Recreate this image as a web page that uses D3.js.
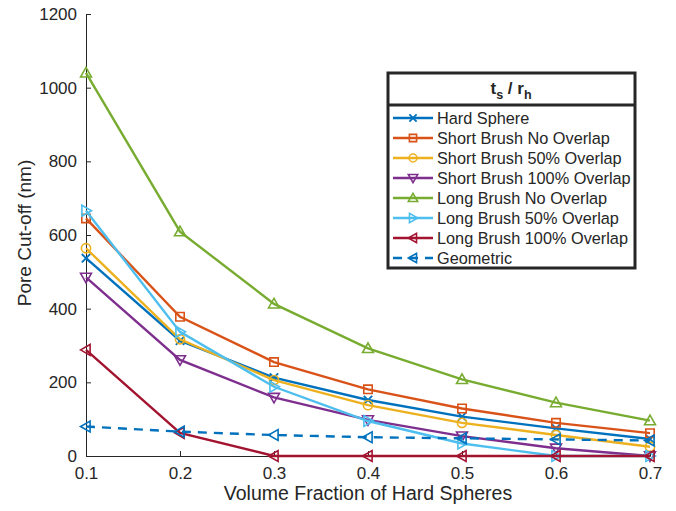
<!DOCTYPE html>
<html>
<head>
<meta charset="utf-8">
<script src="https://cdn.jsdelivr.net/npm/d3@7"></script>
<style>
  body { margin: 0; background: #fff; }
  svg text { font-family: "Liberation Sans", Arial, sans-serif; fill: #262626; }
</style>
</head>
<body>
<div id="chart"></div>
<script>

// === Data === //

var fractions = [0.1, 0.2, 0.3, 0.4, 0.5, 0.6, 0.7];

var hardSphere   = [537, 313, 213, 152, 107, 75, 46];
var shortNo      = [645, 378, 255, 181, 129, 90, 62];
var short50      = [564, 317, 206, 138, 90, 57, 25];
var short100     = [485, 261, 159, 98, 54, 21, 0];
var longNo       = [1040, 609, 413, 292, 208, 145, 96];
var long50       = [666, 337, 188, 95, 34, 0, 0];
var long100      = [288, 63, 0, 0, 0, 0, 0];
var geometric    = [80, 66, 57, 51, 48, 45, 42];

var seriesNames  = ['Hard Sphere', 'Short Brush No Overlap', 'Short Brush 50% Overlap',
  'Short Brush 100% Overlap', 'Long Brush No Overlap', 'Long Brush 50% Overlap',
  'Long Brush 100% Overlap', 'Geometric'];

var yTicks = [0, 200, 400, 600, 800, 1000, 1200];

// === Setup === //

var width = 676, height = 511;
var margin = {left: 86, right: 26, top: 14, bottom: 55};

var series = [
  {name: seriesNames[0], values: hardSphere, colour: '#0072BD', marker: 'x'},
  {name: seriesNames[1], values: shortNo,    colour: '#D95319', marker: 'square'},
  {name: seriesNames[2], values: short50,    colour: '#EDB120', marker: 'circle'},
  {name: seriesNames[3], values: short100,   colour: '#7E2F8E', marker: 'down'},
  {name: seriesNames[4], values: longNo,     colour: '#77AC30', marker: 'up'},
  {name: seriesNames[5], values: long50,     colour: '#4DBEEE', marker: 'right'},
  {name: seriesNames[6], values: long100,    colour: '#A2142F', marker: 'left'},
  {name: seriesNames[7], values: geometric,  colour: '#0072BD', marker: 'left', dashed: true}
];

var svg = d3.select('#chart').append('svg')
  .attr('width', width).attr('height', height);

var x = d3.scaleLinear().domain([0.1, 0.7]).range([margin.left, 650]);
var y = d3.scaleLinear().domain([0, 1200]).range([456, margin.top]);

// === Axes === //

var xAxis = d3.axisBottom(x).tickValues(fractions).tickSize(-5).tickPadding(11)
  .tickFormat(d3.format('.1f'));
var yAxis = d3.axisLeft(y).tickValues(yTicks).tickSize(-5).tickPadding(9)
  .tickFormat(d3.format('d'));

var gx = svg.append('g').attr('transform', 'translate(0,' + y(0) + ')').call(xAxis);
var gy = svg.append('g').attr('transform', 'translate(' + x(0.1) + ',0)').call(yAxis);

[gx, gy].forEach(function(g) {
  g.selectAll('path.domain').attr('stroke', '#262626').attr('stroke-width', 1);
  g.selectAll('line').attr('stroke', '#262626');
  g.selectAll('text').style('font-size', '17px').attr('fill', '#262626');
});

svg.append('text')
  .attr('x', (x(0.1) + x(0.7)) / 2).attr('y', 500)
  .attr('text-anchor', 'middle').style('font-size', '19.5px')
  .text('Volume Fraction of Hard Spheres');

svg.append('text')
  .attr('transform', 'translate(31,' + 233 + ') rotate(-90)')
  .attr('text-anchor', 'middle').style('font-size', '19px')
  .text('Pore Cut-off (nm)');

// === Markers === //

function drawMarker(g, type, colour, size) {
  var s = size;
  if (type === 'x') {
    g.append('path').attr('d', 'M' + (-s) + ',' + (-s) + 'L' + s + ',' + s + 'M' + (-s) + ',' + s + 'L' + s + ',' + (-s))
      .attr('stroke', colour).attr('stroke-width', 1.8).attr('fill', 'none');
    return;
  }
  var path;
  if (type === 'square') path = 'M' + (-s) + ',' + (-s) + 'H' + s + 'V' + s + 'H' + (-s) + 'Z';
  if (type === 'circle') { g.append('circle').attr('r', s * 1.1).attr('fill', 'none').attr('stroke', colour).attr('stroke-width', 1.6); return; }
  var t = s * 1.3;
  if (type === 'up') path = 'M0,' + (-t) + 'L' + t + ',' + (t * 0.75) + 'L' + (-t) + ',' + (t * 0.75) + 'Z';
  if (type === 'down') path = 'M0,' + t + 'L' + t + ',' + (-t * 0.75) + 'L' + (-t) + ',' + (-t * 0.75) + 'Z';
  if (type === 'right') path = 'M' + t + ',0L' + (-t * 0.75) + ',' + t + 'L' + (-t * 0.75) + ',' + (-t) + 'Z';
  if (type === 'left') path = 'M' + (-t) + ',0L' + (t * 0.75) + ',' + t + 'L' + (t * 0.75) + ',' + (-t) + 'Z';
  g.append('path').attr('d', path).attr('fill', 'none').attr('stroke', colour).attr('stroke-width', 1.6);
}

// === Lines === //

var line = d3.line()
  .x(function(d, i) { return x(fractions[i]); })
  .y(function(d) { return y(d); });

var plot = svg.append('g');

series.forEach(function(s) {
  plot.append('path')
    .datum(s.values)
    .attr('d', line)
    .attr('fill', 'none')
    .attr('stroke', s.colour)
    .attr('stroke-width', 2.4)
    .attr('stroke-dasharray', s.dashed ? '9,7' : null);

  s.values.forEach(function(v, i) {
    var m = plot.append('g').attr('transform', 'translate(' + x(fractions[i]) + ',' + y(v) + ')');
    drawMarker(m, s.marker, s.colour, 4.2);
  });
});

// === Legend === //

var lg = svg.append('g').attr('transform', 'translate(388,73)');

lg.append('rect').attr('width', 247).attr('height', 195)
  .attr('fill', '#fff').attr('stroke', '#262626').attr('stroke-width', 3);
lg.append('line').attr('x1', 0).attr('x2', 247).attr('y1', 32).attr('y2', 32)
  .attr('stroke', '#262626').attr('stroke-width', 3);

var title = lg.append('text').attr('x', 123).attr('y', 21)
  .attr('text-anchor', 'middle').style('font-size', '17px').style('font-weight', 'bold');
title.append('tspan').text('t');
title.append('tspan').attr('dy', 5).style('font-size', '12.5px').text('s');
title.append('tspan').attr('dy', -5).text(' / r');
title.append('tspan').attr('dy', 5).style('font-size', '12.5px').text('h');

series.forEach(function(s, i) {
  var ry = 45 + i * 20;
  var row = lg.append('g').attr('transform', 'translate(0,' + ry + ')');
  row.append('line').attr('x1', 5).attr('x2', 45).attr('y1', 0).attr('y2', 0)
    .attr('stroke', s.colour).attr('stroke-width', 2.4)
    .attr('stroke-dasharray', s.dashed ? '9,7' : null);
  var m = row.append('g').attr('transform', 'translate(25,0)');
  drawMarker(m, s.marker, s.colour, 3.6);
  row.append('text').attr('x', 49).attr('y', 6).style('font-size', '16.3px').text(s.name);
});

</script>
</body>
</html>
